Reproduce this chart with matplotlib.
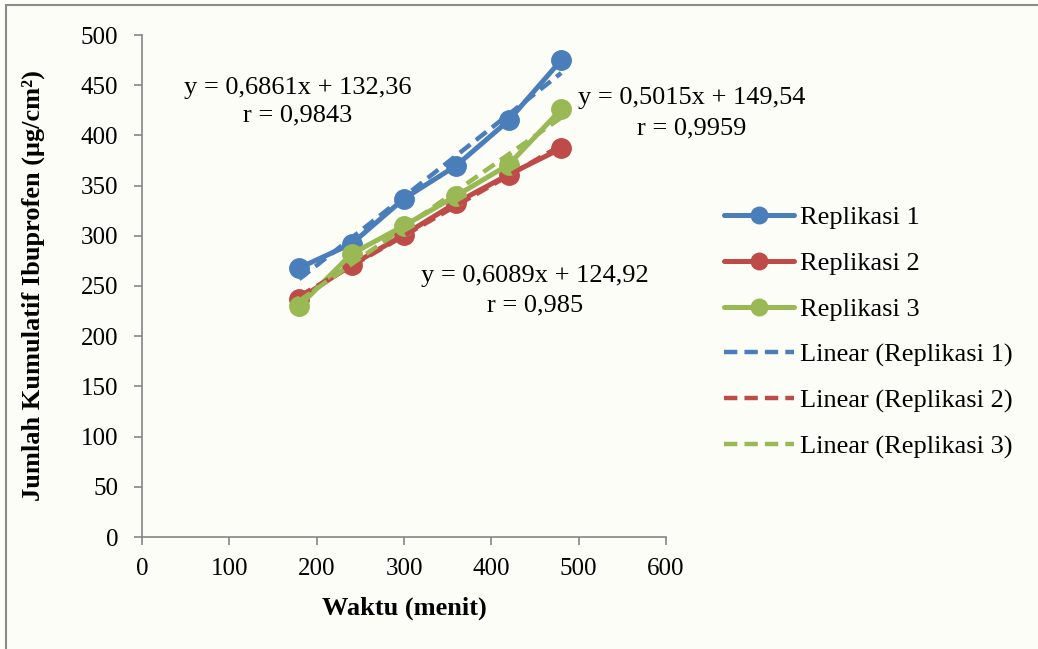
import numpy as np
import matplotlib
matplotlib.use("Agg")
import matplotlib.pyplot as plt
from matplotlib.patches import Rectangle

plt.rcParams['font.family'] = ['Liberation Serif', 'DejaVu Serif']

waktu = [180, 240, 300, 360, 420, 480]
replikasi_1 = [268, 292, 337, 370, 415, 475]
replikasi_2 = [237, 271, 301, 333, 361, 387]
replikasi_3 = [230, 282, 310, 340, 371, 426]
series_names = ['Replikasi 1', 'Replikasi 2', 'Replikasi 3']
colors = ['#4a7ebb', '#be4b48', '#98b954']
equations = [("y = 0,6861x + 132,36", "r = 0,9843"),
             ("y = 0,5015x + 149,54", "r = 0,9959"),
             ("y = 0,6089x + 124,92", "r = 0,985")]

bg = '#fdfdf8'
fig = plt.figure(figsize=(10.38, 6.49), dpi=100, facecolor=bg)
fig.patches.append(Rectangle((6/1038, -0.01), 1.1, 1 - 5/649 + 0.01, transform=fig.transFigure,
                             fill=False, edgecolor='#8c8c8c', linewidth=1.5))
ax = fig.add_axes([142/1038, 1 - 537/649, (666 - 142)/1038, (537 - 35)/649])
ax.set_facecolor(bg)

data = [replikasi_1, replikasi_2, replikasi_3]
x = np.array(waktu, dtype=float)
handles = []
for name, y, c in zip(series_names, data, colors):
    h, = ax.plot(x, y, color=c, lw=3.6, marker='o', ms=14, solid_capstyle='round', zorder=3)
    handles.append((h, name))
trend_handles = []
for name, y, c in zip(series_names, data, colors):
    k, b = np.polyfit(x, y, 1)
    xs = np.array([x.min(), x.max()])
    h, = ax.plot(xs, k * xs + b, color=c, lw=3.2, ls=(0, (3, 1.6)), zorder=4)
    trend_handles.append((h, 'Linear (' + name + ')'))

ax.set_xlim(0, 600)
ax.set_ylim(0, 500)
ax.set_xticks(range(0, 601, 100))
ax.set_yticks(range(0, 501, 50))
for s in ['top', 'right']:
    ax.spines[s].set_visible(False)
for s in ['left', 'bottom']:
    ax.spines[s].set_color('#868686')
    ax.spines[s].set_linewidth(1.2)
ax.tick_params(direction='out', length=6, width=1.2, color='#868686', labelsize=18)
ax.tick_params(axis='y', pad=11)
ax.tick_params(axis='x', pad=9)

ax.set_xlabel('Waktu (menit)', fontsize=19, fontweight='bold', labelpad=12)
ax.set_ylabel('Jumlah Kumulatif Ibuprofen (μg/cm²)', fontsize=19, fontweight='bold', labelpad=26)

def fig_text(px, py, s):
    fig.text(px / 1038, 1 - py / 649, s, ha='center', va='center', fontsize=19)

fig_text(298, 88, equations[0][0]); fig_text(298, 115, equations[0][1])
fig_text(692, 98, equations[1][0]); fig_text(692, 128, equations[1][1])
fig_text(535, 276, equations[2][0]); fig_text(535, 305, equations[2][1])

all_h = handles + trend_handles
leg = fig.legend([h for h, _ in all_h], [n for _, n in all_h],
                 loc='upper left', bbox_to_anchor=(724/1038, 1 - 206/649),
                 frameon=False, fontsize=19, handlelength=2.65, handletextpad=0.23,
                 labelspacing=0.84, borderaxespad=0, borderpad=0, markerscale=0.85)

fig.savefig('out.png', dpi=100, facecolor=bg)
